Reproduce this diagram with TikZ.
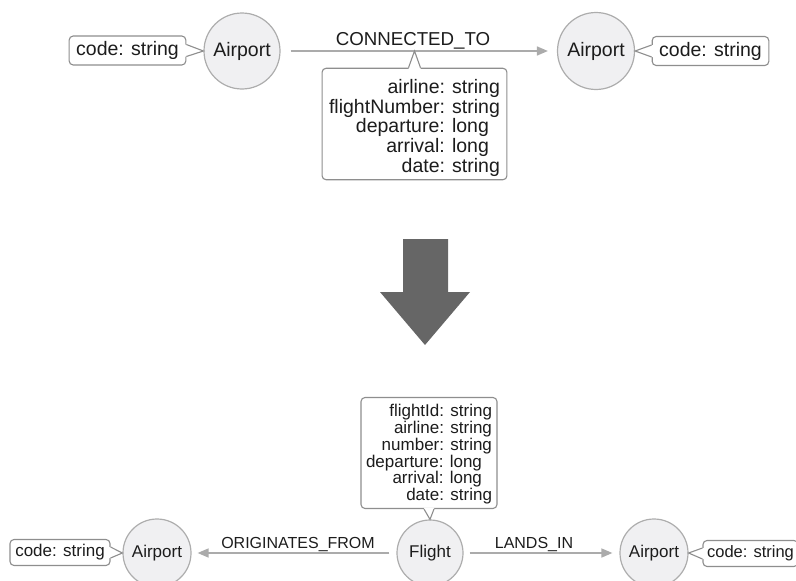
\documentclass[tikz,border=0pt]{standalone}
\usepackage{fontspec}
\setmainfont{Liberation Sans}
\usetikzlibrary{arrows.meta,calc}

\definecolor{nodefill}{HTML}{F0F0F2}
\definecolor{nodeline}{HTML}{ADADAD}
\definecolor{boxline}{HTML}{8E8E8E}
\definecolor{edgeline}{HTML}{ABABAB}
\definecolor{ink}{HTML}{1C1C1C}
\definecolor{bigarrow}{HTML}{666666}

\tikzset{
  entity/.style={circle, draw=nodeline, fill=nodefill, line width=1.2pt,
    text=ink, inner sep=0pt},
  propbox/.style={draw=boxline, fill=white, rounded corners=4pt,
    line width=1.1pt, text=ink},
  rel/.style={draw=edgeline, line width=1.6pt,
    -{Triangle[length=11pt,width=9pt]}},
  rellabel/.style={text=ink, inner sep=0pt, anchor=base},
  ptrline/.style={draw=boxline, line width=1.1pt, line join=miter},
  topfont/.style={font=\fontsize{19.5}{19.6}\selectfont},
  toplabel/.style={font=\fontsize{18.7}{20}\selectfont},
  botfont/.style={font=\fontsize{17}{16.7}\selectfont},
  botlabel/.style={font=\fontsize{16}{18}\selectfont},
}

% speech-bubble tail of a property box:
% #1 anchor on the box edge, #2 half base vector, #3 tip, #4 inward vector
\newcommand\calloutptr[4]{%
  \fill[white] ($(#1)+(#2)+(#4)$) -- ($(#1)+(#2)$) -- (#3)
    -- ($(#1)-(#2)$) -- ($(#1)-(#2)+(#4)$) -- cycle;
  \draw[ptrline] ($(#1)+(#2)$) -- (#3) -- ($(#1)-(#2)$);}

\begin{document}
\begin{tikzpicture}[x=1pt, y=-1pt]
  \path[use as bounding box, clip] (0,0) rectangle (796,581);

  % ---------- property graph: Airport -[CONNECTED_TO]-> Airport ----------
  \node[entity, topfont, minimum size=76pt] (a1) at (242,51) {Airport};
  \node[entity, topfont, minimum size=77pt] (a2) at (596,51) {Airport};

  \node[propbox, topfont, minimum width=115pt, minimum height=29pt,
        inner xsep=7pt] (c1) at (127.5,50.5) {code: string};
  \node[propbox, topfont, minimum width=115pt, minimum height=29pt,
        inner xsep=7pt] (c2) at (710.5,51) {code: string};

  \draw[rel, shorten <=10pt, shorten >=9pt] (a1) -- (a2);
  \node[rellabel, toplabel] (l1) at (413,45) {CONNECTED\_TO};

  \node[propbox, topfont, align=right, inner xsep=7pt, inner ysep=3.5pt]
    (p1) at (414.5,124)
    {\rule{0pt}{22pt}airline: string\\
     flightNumber: string\\
     departure: long\kern11pt\\
     arrival: long\kern11pt\\
     date: string};

  \calloutptr{c1.east}{0,-6}{a1.west}{-1.5,0}
  \calloutptr{c2.west}{0,-6}{a2.east}{1.5,0}
  \calloutptr{p1.north}{-6,0}{p1.north |- a1}{0,1.5}

  % ---------- transformation arrow ----------
  \fill[bigarrow] (403,239) -- (448,239) -- (448,292) -- (470,292)
    -- (425,345) -- (380,292) -- (403,292) -- cycle;

  % ---------- Airport <-[ORIGINATES_FROM]- Flight -[LANDS_IN]-> Airport ----------
  \node[entity, botfont, minimum size=68pt] (b1) at (157,553) {Airport};
  \node[entity, botfont, minimum size=66pt] (fl) at (430,553) {Flight};
  \node[entity, botfont, minimum size=68pt] (b2) at (654,553) {Airport};

  \node[propbox, botfont, minimum width=100pt, minimum height=26pt,
        inner xsep=5pt] (c3) at (60,552.5) {code: string};
  \node[propbox, font=\fontsize{16.5}{18}\selectfont, minimum width=95pt,
        minimum height=26pt, inner xsep=4pt] (c4) at (750.5,553.5)
        {code: string};

  \draw[rel, shorten <=7pt, shorten >=6pt] (fl) -- (b1);
  \draw[rel, shorten <=6pt, shorten >=7pt] (fl) -- (b2);
  \node[rellabel, botlabel] (l2) at (298,548) {ORIGINATES\_FROM};
  \node[rellabel, botlabel] (l3) at (534,548) {LANDS\_IN};

  \node[propbox, botfont, align=right, inner xsep=5pt, inner ysep=4.5pt]
    (p2) at (429,453)
    {\rule{0pt}{15pt}flightId: string\\
     airline: string\\
     number: string\\
     departure: long\kern10pt\\
     arrival: long\kern10pt\\
     date: string};

  \calloutptr{c3.east}{0,-5.5}{b1.west}{-1.5,0}
  \calloutptr{c4.west}{0,-5.5}{b2.east}{1.5,0}
  \calloutptr{p2.south}{-5,0}{fl.north}{0,-1.5}
\end{tikzpicture}
\end{document}
